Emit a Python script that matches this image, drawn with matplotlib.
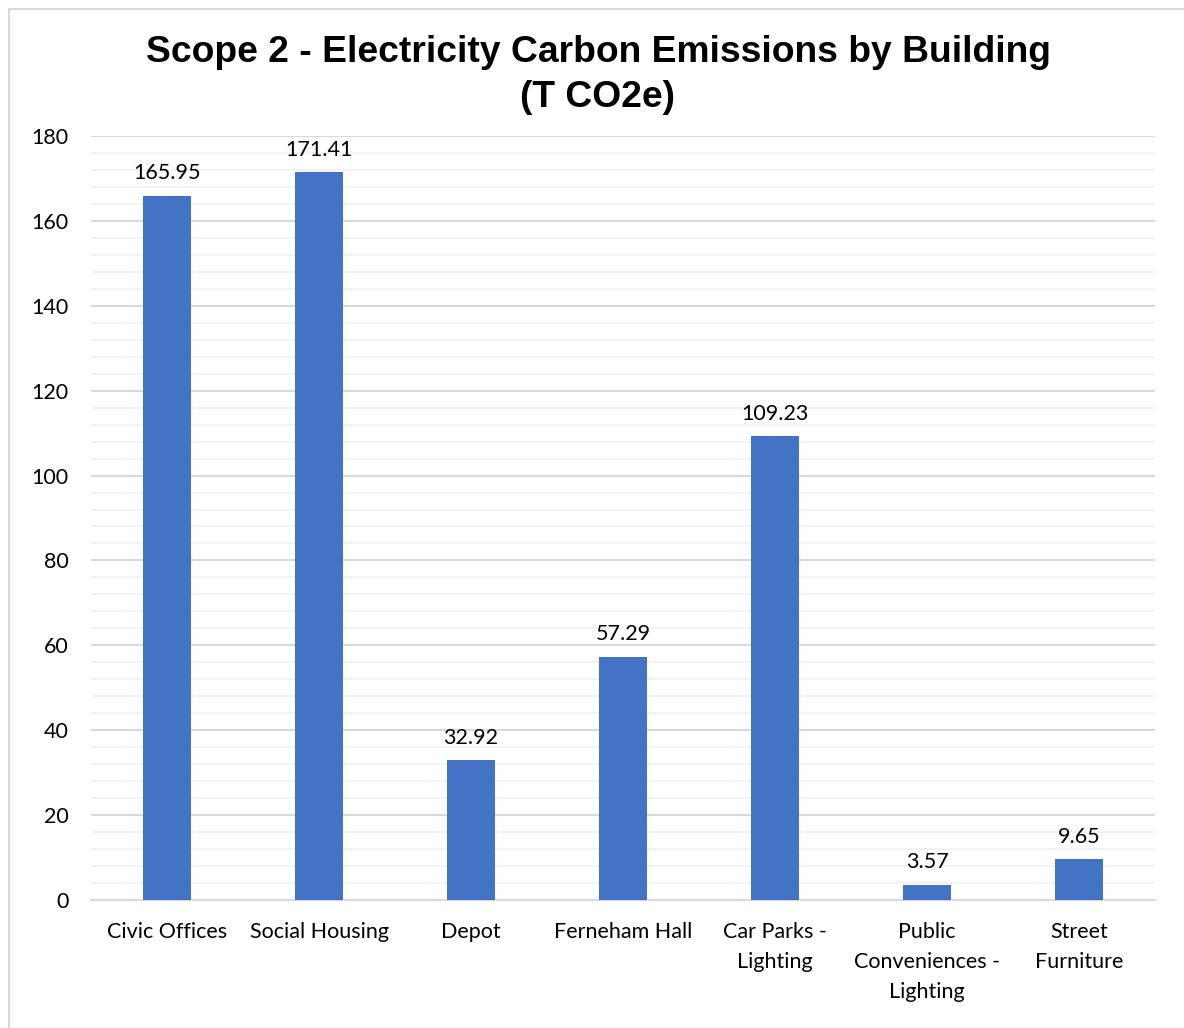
import matplotlib.pyplot as plt
from matplotlib.lines import Line2D
from matplotlib.ticker import MultipleLocator

buildings = ['Civic Offices', 'Social Housing', 'Depot', 'Ferneham Hall',
             'Car Parks -\nLighting', 'Public\nConveniences -\nLighting', 'Street\nFurniture']
emissions = [165.95, 171.41, 32.92, 57.29, 109.23, 3.57, 9.65]
value_labels = ['165.95', '171.41', '32.92', '57.29', '109.23', '3.57', '9.65']

body_font = ['Lato', 'DejaVu Sans']
fs = 15.5

fig = plt.figure(figsize=(11.84, 10.28), dpi=100)
ax = fig.add_axes([91 / 1184, 1 - 900 / 1028, 1064 / 1184, 764 / 1028])

x = range(len(buildings))
bars = ax.bar(x, emissions, width=0.316, color='#4472C4', zorder=3)
for b, lab in zip(bars, value_labels):
    ax.annotate(lab, (b.get_x() + b.get_width() / 2, b.get_height()),
                xytext=(0, 9), textcoords='offset points', ha='center', va='bottom',
                fontsize=fs, family=body_font, color='#000000')

ax.set_xlim(-0.5, len(buildings) - 0.5)
ax.set_ylim(0, 180)
ax.yaxis.set_major_locator(MultipleLocator(20))
ax.yaxis.set_minor_locator(MultipleLocator(4))
ax.grid(which='major', axis='y', color='#D9D9D9', linewidth=1.5, zorder=0)
ax.grid(which='minor', axis='y', color='#F2F2F2', linewidth=1.5, zorder=0)
for s in ['top', 'right', 'left']:
    ax.spines[s].set_visible(False)
ax.spines['bottom'].set_color('#D9D9D9')
ax.spines['bottom'].set_linewidth(1.5)
ax.tick_params(which='both', length=0)
ax.tick_params(axis='y', pad=16)
ax.tick_params(axis='x', pad=16)
ax.set_xticks(list(x))
ax.set_xticklabels(buildings, fontsize=fs, family=body_font, linespacing=1.62, va='top')
for t in ax.get_yticklabels():
    t.set_fontsize(fs)
    t.set_family(body_font)

fig.text(598 / 1184, 1 - 75 / 1028, 'Scope 2 - Electricity Carbon Emissions by Building\n(T CO2e)',
         ha='center', va='center', fontsize=26.8, fontweight='bold',
         family=['Liberation Sans', 'DejaVu Sans'], linespacing=1.4)

fig.add_artist(Line2D([8.5 / 1184, 1], [1 - 8.5 / 1028] * 2, color='#D9D9D9', linewidth=1.5))
fig.add_artist(Line2D([8.5 / 1184] * 2, [0, 1 - 8.5 / 1028], color='#D9D9D9', linewidth=1.5))

fig.savefig('out.png', dpi=100)
